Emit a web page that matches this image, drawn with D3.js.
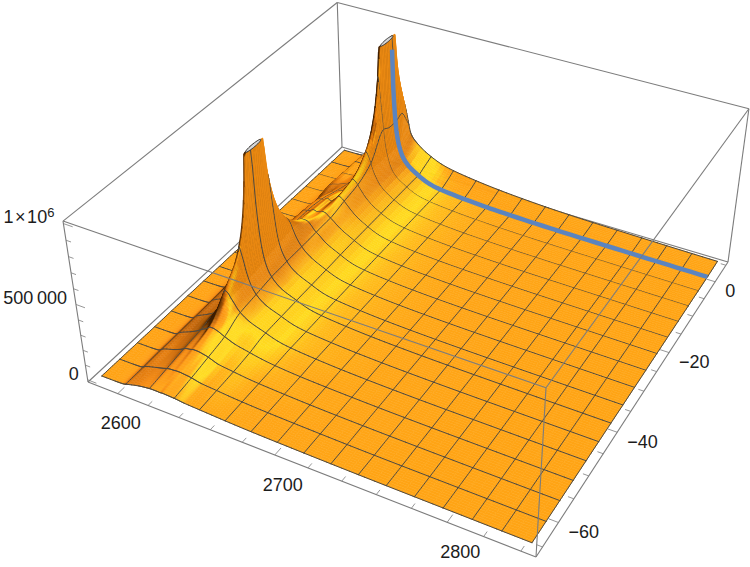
<!DOCTYPE html>
<html>
<head>
<meta charset="utf-8">
<script src="https://cdn.jsdelivr.net/npm/d3@7"></script>
<style>
  html, body { margin: 0; padding: 0; background: #fff; }
  svg { display: block; }
  text { font-family: "Liberation Sans", Arial, sans-serif; font-size: 18px; fill: #1c1c1c; }
</style>
</head>
<body>
<svg id="plot" width="750" height="567"></svg>
<script>
// Sample positions of the response surface.
const xNodes = [2585, 2594, 2599, 2603, 2610, 2615, 2619, 2622, 2624, 2626, 2628, 2630, 2632, 2635, 2640, 2648, 2660, 2680, 2710, 2750, 2800, 2843];
const yNodes = [4.6, 2, 0, -2, -4.2, -8.6, -13, -17.4, -21.8, -26.2, -30.6, -35, -37, -38, -39, -41, -43.8, -48.2, -52.6, -57, -61.4, -65.5];

// Height at each sample, in thousands; one row per yNodes entry.
const zRows = [
  [3, 4, 7, 55, 60, 80, 100, 118, 141, 179, 276, 476, 407, 271, 210, 155, 105, 70, 40, 20, 10, 5],
  [3, 4, 7, 55, 62, 82, 104, 125, 145, 187, 305, 845, 660, 300, 190, 130, 75, 44, 25, 12, 6, 3],
  [3, 4, 7, 60, 62, 84, 105, 128, 149, 192, 319, 2420, 685, 311, 179, 113, 59, 34, 17, 8, 4, 2],
  [3, 4, 7, 60, 62, 84, 108, 132, 153, 195, 322, 2420, 688, 313, 181, 114, 60, 34, 17, 8, 4, 2],
  [3, 4, 7, 65, 70, 90, 112, 135, 165, 215, 330, 805, 620, 330, 181, 115, 60, 34, 17, 8, 4, 2],
  [3, 4, 8, 70, 95, 115, 135, 150, 163, 199, 277, 386, 353, 266, 177, 115, 61, 34, 17, 8, 4, 2],
  [4, 5, 9, 50, 100, 150, 165, 178, 180, 201, 247, 283, 271, 231, 170, 112, 61, 34, 17, 8, 4, 2],
  [4, 5, 10, 35, 115, 190, 200, 215, 205, 218, 240, 255, 245, 215, 165, 112, 61, 34, 17, 8, 4, 2],
  [4, 5, 10, 38, 140, 205, 215, 230, 225, 229, 238, 235, 220, 198, 157, 112, 60, 34, 17, 8, 4, 2],
  [4, 5, 12, 70, 170, 205, 215, 255, 270, 270, 265, 245, 220, 195, 152, 110, 60, 34, 17, 8, 4, 2],
  [4, 5, 11, 100, 170, 180, 200, 260, 378, 357, 305, 258, 224, 187, 147, 106, 59, 34, 17, 8, 4, 2],
  [4, 5, 10, 70, 100, 130, 180, 300, 800, 566, 360, 274, 228, 184, 142, 104, 58, 34, 17, 8, 4, 2],
  [4, 5, 9, 55, 85, 115, 170, 305, 2412, 677, 384, 280, 226, 182, 139, 103, 58, 34, 17, 8, 4, 2],
  [4, 5, 9, 55, 85, 115, 170, 306, 3050, 708, 389, 283, 227, 182, 139, 103, 58, 34, 17, 8, 4, 2],
  [4, 5, 9, 55, 85, 115, 168, 303, 2410, 675, 382, 278, 225, 181, 138, 102, 58, 34, 17, 8, 4, 2],
  [4, 5, 9, 40, 75, 105, 165, 292, 838, 560, 351, 263, 217, 175, 134, 100, 57, 33, 17, 8, 4, 2],
  [4, 5, 8, 38, 72, 100, 150, 261, 452, 396, 309, 246, 204, 167, 130, 98, 56, 33, 17, 8, 4, 2],
  [4, 5, 8, 35, 70, 100, 150, 213, 275, 266, 238, 211, 182, 154, 123, 94, 55, 33, 17, 8, 4, 2],
  [3, 4, 7, 30, 60, 85, 110, 125, 140, 140, 135, 128, 118, 105, 85, 68, 46, 28, 16, 8, 4, 2],
  [3, 4, 7, 28, 50, 70, 90, 95, 100, 100, 98, 94, 90, 80, 62, 52, 38, 26, 15, 8, 4, 2],
  [3, 4, 6, 22, 42, 55, 66, 68, 70, 70, 68, 66, 64, 58, 48, 42, 32, 22, 14, 7, 4, 2],
  [3, 4, 6, 16, 34, 42, 46, 46, 45, 47, 46, 45, 44, 42, 36, 32, 26, 18, 12, 7, 4, 2]
];

// Clipped peaks: x, y centre and half-widths of each opening at the top of the range.
const clippedPeaksX = [2630, 2624];
const clippedPeaksY = [-1, -38];
const holeHalfX = [1.2, 1.2];
const holeHalfY = [2.0, 2.0];

// Axis labels and tick spacing.
const xTickLabels = [2600, 2700, 2800];
const yTickLabels = [0, -20, -40, -60];
const zTickLabels = [0, 500000, 1000000];
const xMinorStep = 20, yMinorStep = 5, zMinorStep = 100000;

// Data ranges of the frame and of the surface.
const xBox = [2580, 2848], yBox = [-67, 6], zBox = [-15000, 1015000];
const xSurface = [2585, 2843], ySurface = [-65.4, 4.6];
const meshCount = 15;
const zClip = 1000000;

const uScale = d3.scaleLinear().domain(xBox).range([0, 1]);
const vScale = d3.scaleLinear().domain(yBox).range([0, 1]);
const wScale = d3.scaleLinear().domain(zBox).range([0, 1]);

// Camera: homography of the floor plus the vanishing point of the vertical direction.
const floorA = [88, 382], floorF = [536, 557], floorR = [728, 262], floorB = [342, 147];
const vanishing = [420, 2520], lift = -0.07;

function makeCamera() {
  const dx1 = floorF[0] - floorR[0], dy1 = floorF[1] - floorR[1];
  const dx2 = floorB[0] - floorR[0], dy2 = floorB[1] - floorR[1];
  const sx = floorA[0] - floorF[0] + floorR[0] - floorB[0];
  const sy = floorA[1] - floorF[1] + floorR[1] - floorB[1];
  const det = dx1 * dy2 - dy1 * dx2;
  const g = (sx * dy2 - sy * dx2) / det;
  const h = (dx1 * sy - dy1 * sx) / det;
  const a = floorF[0] - floorA[0] + g * floorF[0], b = floorB[0] - floorA[0] + h * floorB[0];
  const d = floorF[1] - floorA[1] + g * floorF[1], e = floorB[1] - floorA[1] + h * floorB[1];
  return (u, v, w) => {
    const W = g * u + h * v + 1 + lift * w;
    return [
      (a * u + b * v + floorA[0] + lift * w * vanishing[0]) / W,
      (d * u + e * v + floorA[1] + lift * w * vanishing[1]) / W
    ];
  };
}
const camera = makeCamera();
const project = (x, y, z) => camera(uScale(x), vScale(y), wScale(z));
const P = camera;

// Shape-preserving cubic through a set of ascending samples.
function pchip(xs, ys) {
  const n = xs.length, h = [], s = [], m = new Array(n);
  for (let i = 0; i < n - 1; i++) { h[i] = xs[i + 1] - xs[i]; s[i] = (ys[i + 1] - ys[i]) / h[i]; }
  m[0] = s[0]; m[n - 1] = s[n - 2];
  for (let i = 1; i < n - 1; i++) {
    if (s[i - 1] * s[i] <= 0) { m[i] = 0; continue; }
    const w1 = 2 * h[i] + h[i - 1], w2 = h[i] + 2 * h[i - 1];
    m[i] = (w1 + w2) / (w1 / s[i - 1] + w2 / s[i]);
  }
  return x => {
    const i = Math.min(n - 2, Math.max(0, d3.bisectRight(xs, x) - 1));
    const t = (x - xs[i]) / h[i], t2 = t * t, t3 = t2 * t;
    return (2 * t3 - 3 * t2 + 1) * ys[i] + (t3 - 2 * t2 + t) * h[i] * m[i]
      + (-2 * t3 + 3 * t2) * ys[i + 1] + (t3 - t2) * h[i] * m[i + 1];
  };
}

// Display grid: finer than the samples, and containing every mesh line.
const meshXs = d3.range(0, meshCount + 2).map(d3.scaleLinear().domain([0, meshCount + 1]).range(xSurface));
const meshYs = d3.range(0, meshCount + 2).map(d3.scaleLinear().domain([0, meshCount + 1]).range([ySurface[1], ySurface[0]]));

function refine(nodes, meshes, fineGap, coarseGap) {
  const sorted = nodes.slice().sort(d3.ascending), out = [];
  for (let i = 0; i < sorted.length - 1; i++) {
    const gap = sorted[i + 1] - sorted[i];
    const parts = Math.max(1, Math.min(9, Math.ceil(gap / (gap < 6 ? fineGap : coarseGap))));
    for (let k = 0; k < parts; k++) out.push(sorted[i] + gap * k / parts);
  }
  out.push(sorted[sorted.length - 1]);
  meshes.forEach(m => out.push(m));
  out.sort(d3.ascending);
  return out.filter((v, i) => i === 0 || v - out[i - 1] > 0.02);
}
const gridX = refine(xNodes, meshXs, 0.5, 3).filter(x => x >= xSurface[0] && x <= xSurface[1]);
const gridYAsc = refine(yNodes, meshYs, 0.5, 1.4).filter(y => y >= ySurface[0] && y <= ySurface[1]);
const gridY = gridYAsc.slice().reverse();

// Interpolate the logarithm of the height, first along x, then along y.
const logAlongX = zRows.map(row => {
  const f = pchip(xNodes, row.map(Math.log));
  return gridX.map(f);
});
const yAsc = yNodes.slice().reverse();
const gridZ = gridY.map(() => new Array(gridX.length));
gridX.forEach((_, ix) => {
  const f = pchip(yAsc, logAlongX.map(r => r[ix]).reverse());
  gridY.forEach((y, iy) => { gridZ[iy][ix] = Math.exp(f(y)) * 1000; });
});

// Surface shading depends on which way each facet leans.
const shade = d3.scaleLinear()
  .domain([-1, -0.75, -0.45, -0.2, -0.05, 0.03, 0.07, 0.13, 0.22, 0.4, 0.62, 0.82, 1])
  .range(['#3e1e00', '#7a4006', '#c96a0c', '#f58a12', '#ffa014', '#ffa616', '#ffb018', '#ffc81c', '#ffdc1f', '#ffd01c', '#f7a416', '#e58412', '#cf7510'])
  .clamp(true);
const steepFade = d3.scaleLinear().domain([1, 3]).range([0, 1]).clamp(true);

const heightRatio = 0.4;
function facetColor(ix, iy) {
  const zAt = (i, j) => Math.min(gridZ[j][i], zClip * 1.3);
  const dzdx = (zAt(ix + 1, iy) + zAt(ix + 1, iy + 1) - zAt(ix, iy) - zAt(ix, iy + 1)) / 2 / (gridX[ix + 1] - gridX[ix]);
  const dzdy = (zAt(ix, iy) + zAt(ix + 1, iy) - zAt(ix, iy + 1) - zAt(ix + 1, iy + 1)) / 2 / (gridY[iy] - gridY[iy + 1]);
  const gx = dzdx * (xSurface[1] - xSurface[0]) / zClip * heightRatio;
  const gy = dzdy * (ySurface[1] - ySurface[0]) / zClip * heightRatio;
  const g2 = gx * gx + gy * gy;
  const len = Math.sqrt(g2 + 1);
  const yWeight = 0.3 + 1.6 * g2 / (g2 + 1);
  const s = (-gx - yWeight * gy) / len;
  const base = shade(s);
  // Steep faces that lean towards the light stay a plain deep orange.
  return s > 0 ? d3.interpolateRgb(base, '#e98812')(steepFade(Math.sqrt(g2))) : base;
}

const isMeshX = x => meshXs.some(m => Math.abs(m - x) < 0.03);
const isMeshY = y => meshYs.some(m => Math.abs(m - y) < 0.03);
const clampZ = z => Math.min(z, zClip);
const vertex = (ix, iy) => project(gridX[ix], gridY[iy], clampZ(gridZ[iy][ix]));

// Painter's order: far row first; each row's mesh goes on once its facets are down.
const items = [];
const meshStroke = '#4f4a42';
const meshWidth = 1;
const meshSeg = (a, b) => ({ pts: [a, b], fill: 'none', stroke: meshStroke, width: meshWidth });
for (let iy = 0; iy < gridY.length - 1; iy++) {
  const rowLines = [];
  for (let ix = 0; ix < gridX.length - 1; ix++) {
    const corners = [[ix, iy], [ix + 1, iy], [ix + 1, iy + 1], [ix, iy + 1]];
    if (corners.every(([i, j]) => gridZ[j][i] >= zClip)) continue;
    const color = facetColor(ix, iy);
    items.push({ pts: corners.map(([i, j]) => vertex(i, j)), close: true, fill: color, stroke: color, width: 0.5 });
    if (isMeshY(gridY[iy])) rowLines.push(meshSeg(vertex(ix, iy), vertex(ix + 1, iy)));
    if (isMeshX(gridX[ix])) rowLines.push(meshSeg(vertex(ix, iy), vertex(ix, iy + 1)));
  }
  rowLines.push(meshSeg(vertex(gridX.length - 1, iy), vertex(gridX.length - 1, iy + 1)));
  rowLines.forEach(l => items.push(l));
}
for (let ix = 0; ix < gridX.length - 1; ix++) {
  items.push(meshSeg(vertex(ix, gridY.length - 1), vertex(ix + 1, gridY.length - 1)));
}

const svg = d3.select('#plot');
const lineGen = d3.line();
const frameColor = '#7c7c7c';

function frameLines(group, segs, width) {
  group.selectAll('line').data(segs).join('line')
    .attr('x1', d => d[0][0]).attr('y1', d => d[0][1])
    .attr('x2', d => d[1][0]).attr('y2', d => d[1][1])
    .attr('stroke', frameColor).attr('stroke-width', width);
}

// Edges behind the surface.
frameLines(svg.append('g'), [
  [P(0, 0, 0), P(0, 1, 0)],
  [P(0, 1, 0), P(1, 1, 0)],
  [P(0, 1, 0), P(0, 1, 1)]
], 1.1);

// Surface facets and mesh.
svg.append('g').selectAll('path').data(items).join('path')
  .attr('d', d => lineGen(d.pts) + (d.close ? 'Z' : ''))
  .attr('fill', d => d.fill)
  .attr('stroke', d => d.stroke)
  .attr('stroke-width', d => d.width)
  .attr('stroke-linejoin', 'round')
  .attr('stroke-linecap', d => d.close ? 'butt' : 'round');

// The y = 0 slice along the right-hand side of the first peak.
const sliceRow = d3.least(d3.range(gridY.length), i => Math.abs(gridY[i]));
const slicePts = gridX
  .map((x, ix) => ({ x, z: gridZ[sliceRow][ix] }))
  .filter(d => d.x >= clippedPeaksX[0] && d.z <= zClip * 1.02)
  .map(d => project(d.x, 0, clampZ(d.z)));
svg.append('path').attr('d', lineGen(slicePts))
  .attr('fill', 'none').attr('stroke', '#5b84bf').attr('stroke-width', 4.5).attr('stroke-linejoin', 'round');

// Openings where the surface leaves the plotted range.
const holeAngles = d3.range(0, 2 * Math.PI, Math.PI / 16);
clippedPeaksX.forEach((px, i) => {
  const ring = holeAngles.map(t => project(px + holeHalfX[i] * Math.cos(t), clippedPeaksY[i] + holeHalfY[i] * Math.sin(t), zClip));
  svg.append('path').attr('d', lineGen(ring) + 'Z')
    .attr('fill', '#d6d6d6').attr('stroke', '#3a3a3a').attr('stroke-width', 1);
});

// Edges in front of the surface.
frameLines(svg.append('g'), [
  [P(0, 0, 0), P(1, 0, 0)],
  [P(1, 0, 0), P(1, 1, 0)],
  [P(0, 0, 0), P(0, 0, 1)],
  [P(1, 1, 0), P(1, 1, 1)],
  [P(0, 0, 1), P(0, 1, 1)],
  [P(0, 1, 1), P(1, 1, 1)],
  [P(1, 0, 0), P(1, 0, 1)],
  [P(0, 0, 1), P(1, 0, 1)],
  [P(1, 0, 1), P(1, 1, 1)]
], 1.1);

// Tick marks.
const tickSegs = [];
d3.range(xTickLabels[0], xBox[1], xMinorStep).forEach(x => {
  const major = xTickLabels.includes(x);
  tickSegs.push([P(uScale(x), 0, 0), P(uScale(x), major ? 0.022 : 0.014, 0)]);
});
d3.range(yBox[0] + 2, yBox[1], yMinorStep).forEach(y => {
  const major = yTickLabels.includes(y);
  tickSegs.push([P(1, vScale(y), 0), P(major ? 0.98 : 0.988, vScale(y), 0)]);
});
d3.range(0, zBox[1], zMinorStep).forEach(z => {
  const major = zTickLabels.includes(z);
  tickSegs.push([P(0, 0, wScale(z)), P(major ? 0.022 : 0.012, 0, wScale(z))]);
});
frameLines(svg.append('g'), tickSegs, 0.8);

// Tick labels.
const minus = v => String(v).replace('-', '\u2212');
xTickLabels.forEach(x => {
  const p = P(uScale(x), 0, 0);
  svg.append('text').attr('x', p[0] + 3 + 0.05 * (x - xTickLabels[0])).attr('y', p[1] + 31)
    .attr('text-anchor', 'middle').attr('dominant-baseline', 'middle').text(x);
});
yTickLabels.forEach(y => {
  const p = P(1, vScale(y), 0);
  svg.append('text').attr('x', p[0] + 10).attr('y', p[1] + 11)
    .attr('text-anchor', 'start').attr('dominant-baseline', 'middle').text(minus(y));
});
const zLabelText = ['0', '500\u2009000'];
zTickLabels.slice(0, 2).forEach((z, i) => {
  const p = P(0, 0, wScale(z));
  svg.append('text').attr('x', p[0] - 9).attr('y', p[1] - 5)
    .attr('text-anchor', 'end').attr('dominant-baseline', 'middle').text(zLabelText[i]);
});
const topTick = P(0, 0, wScale(zTickLabels[2]));
const topLabel = svg.append('text').attr('x', topTick[0] - 9).attr('y', topTick[1] - 1)
  .attr('text-anchor', 'end');
topLabel.append('tspan').text('1\u200a\u00d7\u200a10');
topLabel.append('tspan').attr('dy', -6).style('font-size', '13px').text('6');
</script>
</body>
</html>
